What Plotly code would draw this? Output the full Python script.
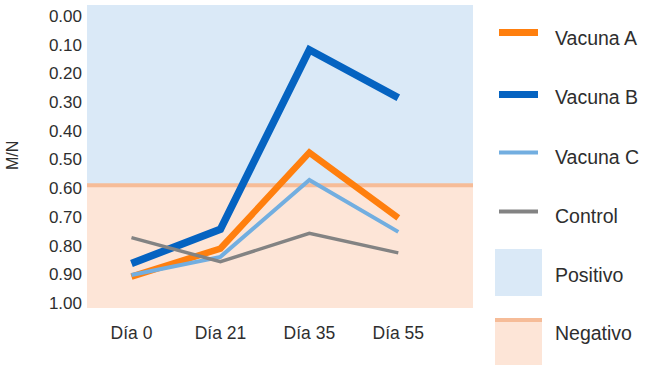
import plotly.graph_objects as go

# ---- data ----
categories = ["Día 0", "Día 21", "Día 35", "Día 55"]
series_names = ["Vacuna A", "Vacuna B", "Vacuna C", "Control"]
vacuna_a = [0.908, 0.810, 0.476, 0.703]
vacuna_b = [0.862, 0.743, 0.118, 0.285]
vacuna_c = [0.902, 0.839, 0.571, 0.752]
control = [0.772, 0.856, 0.757, 0.825]
threshold = 0.59
y_ticks = [0.0, 0.1, 0.2, 0.3, 0.4, 0.5, 0.6, 0.7, 0.8, 0.9, 1.0]
region_names = ["Positivo", "Negativo"]

# ---- styles ----
colors = ["#FF7F0E", "#0563C1", "#72AEE0", "#838383"]
widths = [6.5, 7.5, 4, 3.5]
legend_widths = [7, 7, 4, 4]
pos_fill = "#DAE9F7"
neg_fill = "#FDE5D7"
thr_color = "#F6BC98"
text_color = "#2E2E2E"
FONT = "Liberation Sans, Arial, sans-serif"

W, H = 650, 366
L, R, T, B = 87, 177, 5, 58
PW, PH = W - L - R, H - T - B


def px(x):
    return (x - L) / PW


def py(y):
    return (H - B - y) / PH


fig = go.Figure()
all_series = [vacuna_a, vacuna_b, vacuna_c, control]
for name, vals, c, w in zip(series_names, all_series, colors, widths):
    fig.add_trace(go.Scatter(x=categories, y=vals, name=name, mode="lines",
                             line=dict(color=c, width=w), showlegend=False,
                             hoverinfo="x+y+name"))

shapes = [
    dict(type="rect", xref="paper", yref="y", x0=0, x1=1, y0=-0.038, y1=threshold,
         fillcolor=pos_fill, line=dict(width=0), layer="below"),
    dict(type="rect", xref="paper", yref="y", x0=0, x1=1, y0=threshold, y1=1.017,
         fillcolor=neg_fill, line=dict(width=0), layer="below"),
    dict(type="line", xref="paper", yref="y", x0=0, x1=1, y0=threshold, y1=threshold,
         line=dict(color=thr_color, width=4), layer="below"),
]

annotations = [
    dict(text="M/N", xref="paper", yref="paper", x=px(12), y=py(156), textangle=-90,
         showarrow=False, xanchor="center", yanchor="middle",
         font=dict(size=16, color=text_color, family=FONT)),
]

# ---- manual legend ----
line_y = [32.5, 94.5, 152.5, 211.5]
text_y = [37.5, 97, 156.5, 215.5]
for name, c, w, ly, ty in zip(series_names, colors, legend_widths, line_y, text_y):
    shapes.append(dict(type="line", xref="paper", yref="paper", x0=px(499), x1=px(538),
                       y0=py(ly), y1=py(ly), line=dict(color=c, width=w)))
    annotations.append(dict(text=name, xref="paper", yref="paper", x=px(553), y=py(ty),
                            xanchor="left", yanchor="middle", showarrow=False,
                            font=dict(size=19.5, color=text_color, family=FONT)))

shapes.append(dict(type="rect", xref="paper", yref="paper", x0=px(495), x1=px(542),
                   y0=py(296), y1=py(249), fillcolor=pos_fill, line=dict(width=0)))
shapes.append(dict(type="rect", xref="paper", yref="paper", x0=px(495), x1=px(542),
                   y0=py(365), y1=py(318), fillcolor=neg_fill, line=dict(width=0)))
shapes.append(dict(type="line", xref="paper", yref="paper", x0=px(495), x1=px(542),
                   y0=py(320), y1=py(320), line=dict(color=thr_color, width=4)))
for name, ty in zip(region_names, [275, 333]):
    annotations.append(dict(text=name, xref="paper", yref="paper", x=px(553), y=py(ty),
                            xanchor="left", yanchor="middle", showarrow=False,
                            font=dict(size=19.5, color=text_color, family=FONT)))

fig.update_layout(
    width=W, height=H,
    margin=dict(l=L, r=R, t=T, b=B, pad=0),
    paper_bgcolor="white", plot_bgcolor="white",
    font=dict(family=FONT, color=text_color, size=17),
    shapes=shapes, annotations=annotations,
    showlegend=False,
    xaxis=dict(type="category", categoryorder="array", categoryarray=categories,
               range=[-0.5, 3.84], showgrid=False, zeroline=False, showline=False,
               ticks="", tickfont=dict(size=17.5, color=text_color),
               ticklabelstandoff=12),
    yaxis=dict(range=[1.017, -0.038], tickvals=y_ticks,
               ticktext=[f"{v:.2f}" for v in y_ticks], showgrid=False, zeroline=False,
               showline=False, ticks="", tickfont=dict(size=17, color=text_color),
               ticklabelstandoff=4),
)

fig.write_html("out.html", config={"displayModeBar": False},
               post_script="document.body.style.margin='0px';")
